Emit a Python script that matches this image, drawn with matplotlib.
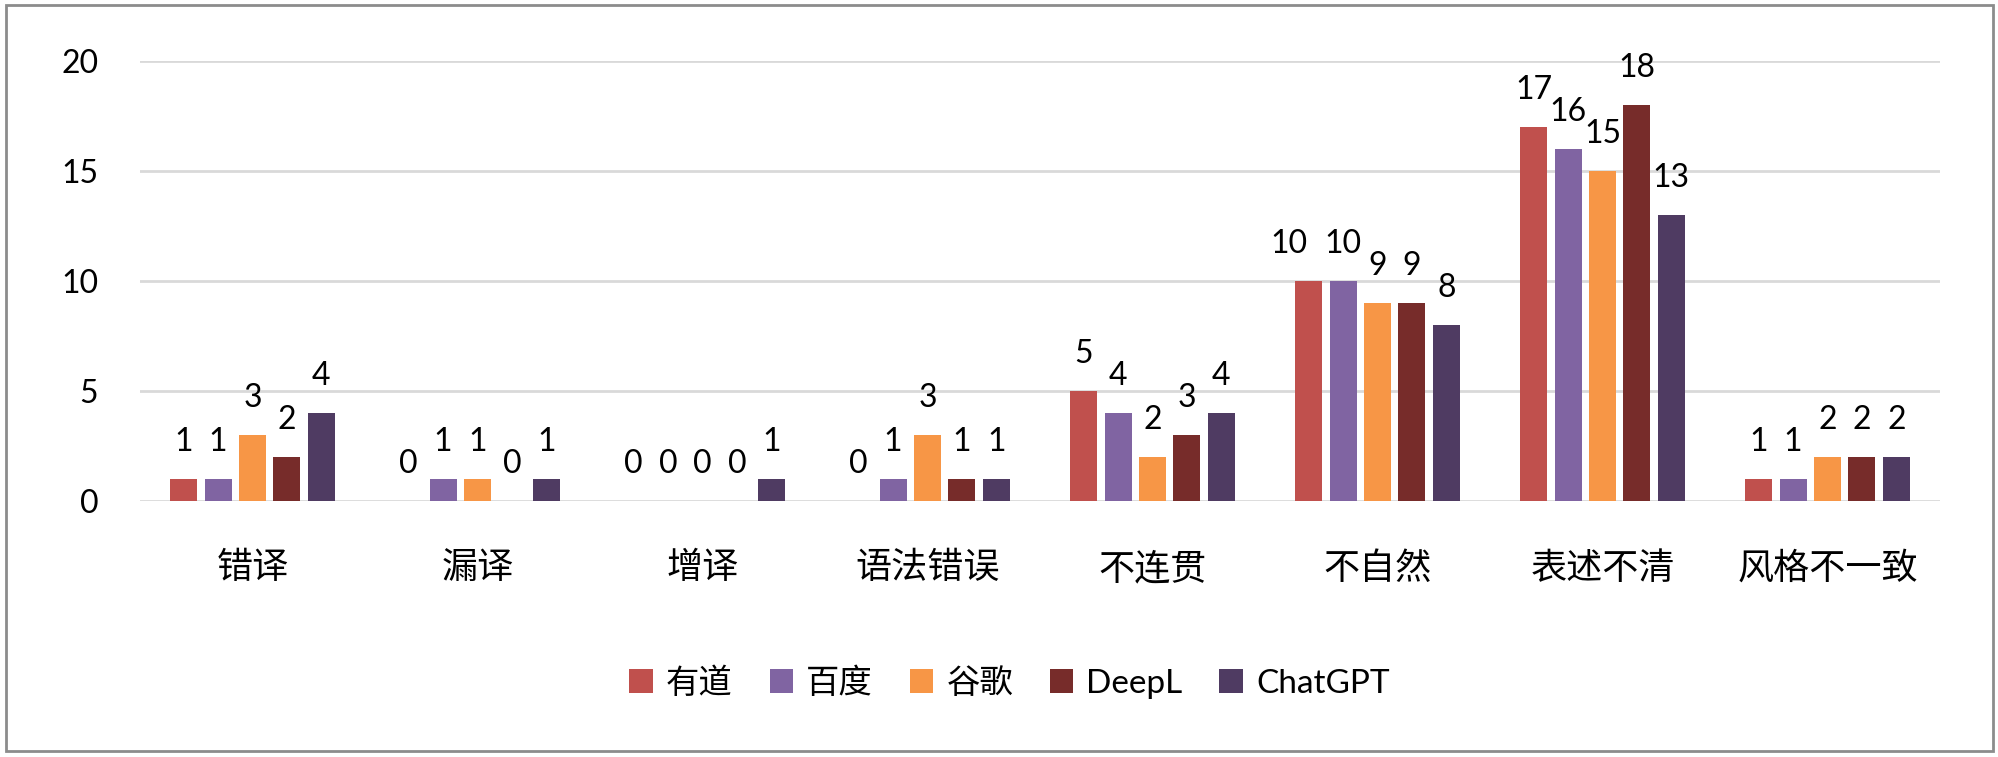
import matplotlib.pyplot as plt
import numpy as np
from matplotlib.patches import Rectangle

plt.rcParams['font.family'] = ['Lato', 'Noto Sans CJK SC', 'DejaVu Sans']

categories = ["错译", "漏译", "增译", "语法错误", "不连贯", "不自然", "表述不清", "风格不一致"]
youdao = [1, 0, 0, 0, 5, 10, 17, 1]
baidu = [1, 1, 0, 1, 4, 10, 16, 1]
google = [3, 1, 0, 3, 2, 9, 15, 2]
deepl = [2, 0, 0, 1, 3, 9, 18, 2]
chatgpt = [4, 1, 1, 1, 4, 8, 13, 2]

series = [("有道", youdao, "#C0504D"),
          ("百度", baidu, "#8064A2"),
          ("谷歌", google, "#F79646"),
          ("DeepL", deepl, "#772C2A"),
          ("ChatGPT", chatgpt, "#4F3B62")]

# labels nudged sideways in the original (series index, category index) -> points
nudge = {(0, 5): -14}

fig = plt.figure(figsize=(19.99, 7.57), dpi=100)
ax = fig.add_axes([0.070, 0.338, 0.9005, 0.581])

x = np.arange(len(categories))
step = 0.153
width = 0.12
for i, (name, vals, color) in enumerate(series):
    pos = x + (i - 2) * step
    ax.bar(pos, vals, width=width, color=color, label=name, zorder=3)
    for j, (p, v) in enumerate(zip(pos, vals)):
        ax.annotate(str(v), (p, v), xytext=(nudge.get((i, j), 0), 27),
                    textcoords="offset points", ha="center", va="center",
                    fontsize=23, color="black", zorder=4)

ax.set_xlim(-0.5, len(categories) - 0.5)
ax.set_ylim(0, 20)
ax.set_yticks([0, 5, 10, 15, 20])
ax.set_xticks(x)
ax.set_xticklabels(categories, fontsize=26)
ax.tick_params(axis="y", labelsize=23, length=0, pad=30)
ax.tick_params(axis="x", length=0, pad=36)
ax.grid(axis="y", color="#D9D9D9", linewidth=2, zorder=0)
ax.set_axisbelow(True)
for s in ax.spines.values():
    s.set_visible(False)

fig.legend(loc="center", bbox_to_anchor=(0.505, 0.098), ncol=5, frameon=False,
           fontsize=24, handlelength=0.7, handleheight=0.7, handletextpad=0.4,
           columnspacing=1.1)

fig.patches.append(Rectangle((0.003, 0.008), 0.994, 0.985, transform=fig.transFigure,
                             fill=False, edgecolor="#8C8C8C", linewidth=2))

fig.savefig("out.png", dpi=100)
